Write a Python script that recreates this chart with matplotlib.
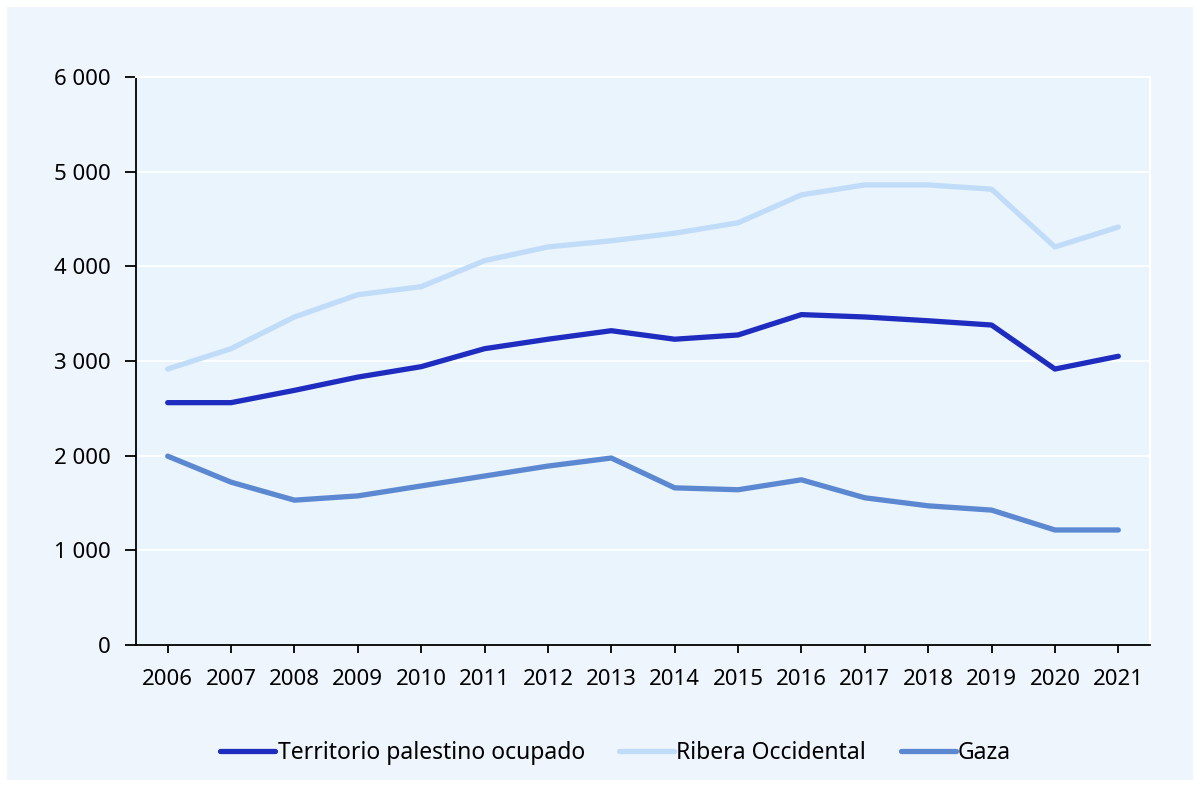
import matplotlib
matplotlib.use("Agg")
import matplotlib.pyplot as plt
from matplotlib.patches import Rectangle
from matplotlib.ticker import FuncFormatter

plt.rcParams['font.family'] = ['Noto Sans', 'DejaVu Sans']

years = list(range(2006, 2022))
territorio = [2560, 2560, 2690, 2830, 2940, 3130, 3230, 3320, 3230, 3275, 3490, 3465, 3425, 3380, 2915, 3050]
ribera = [2915, 3130, 3465, 3700, 3785, 4060, 4205, 4270, 4350, 4460, 4755, 4860, 4860, 4815, 4205, 4415]
gaza = [1995, 1720, 1530, 1575, 1680, 1785, 1890, 1975, 1660, 1640, 1745, 1555, 1470, 1425, 1215, 1215]

labels = ["Territorio palestino ocupado", "Ribera Occidental", "Gaza"]
colors = ["#1f2cc0", "#c0dcf8", "#5b88d1"]

fig = plt.figure(figsize=(12, 7.87), dpi=100)
fig.patch.set_facecolor("white")
fig.add_artist(Rectangle((7 / 1200, 7 / 787), 1186 / 1200, 773 / 787,
                         transform=fig.transFigure, facecolor="#eef5fc",
                         edgecolor="none", zorder=0))

ax = fig.add_axes([136 / 1200, 1 - 645 / 787, (1150 - 136) / 1200, (645 - 77) / 787])
ax.set_facecolor("#eaf4fc")

for vals, lab, c in zip([territorio, ribera, gaza], labels, colors):
    ax.plot(years, vals, color=c, lw=3.8, label=lab, solid_capstyle="round")

ax.set_xlim(2005.5, 2021.5)
ax.set_ylim(0, 6000)
ax.set_xticks(years)
ax.set_yticks(range(0, 6001, 1000))
ax.yaxis.set_major_formatter(FuncFormatter(lambda v, p: f"{int(v):,}".replace(",", " ")))
ax.grid(axis="y", color="white", lw=1.2)
ax.set_axisbelow(True)

for s in ["top", "right"]:
    ax.spines[s].set_color("white")
    ax.spines[s].set_linewidth(1.5)
ax.spines["left"].set_color("black")
ax.spines["bottom"].set_color("black")
ax.spines["left"].set_linewidth(1.3)
ax.spines["bottom"].set_linewidth(1.3)

ax.tick_params(axis="y", length=8, width=1.3, labelsize=16, pad=10, colors="black")
ax.tick_params(axis="x", length=6, width=1.3, labelsize=16, pad=11, colors="black")

fig.legend(loc="center", bbox_to_anchor=(0.513, 1 - 753 / 787), ncol=3, frameon=False,
           fontsize=16.5, handlelength=2.4, handletextpad=0.1, columnspacing=1.5)

fig.savefig("out.png", dpi=100, facecolor=fig.get_facecolor())
